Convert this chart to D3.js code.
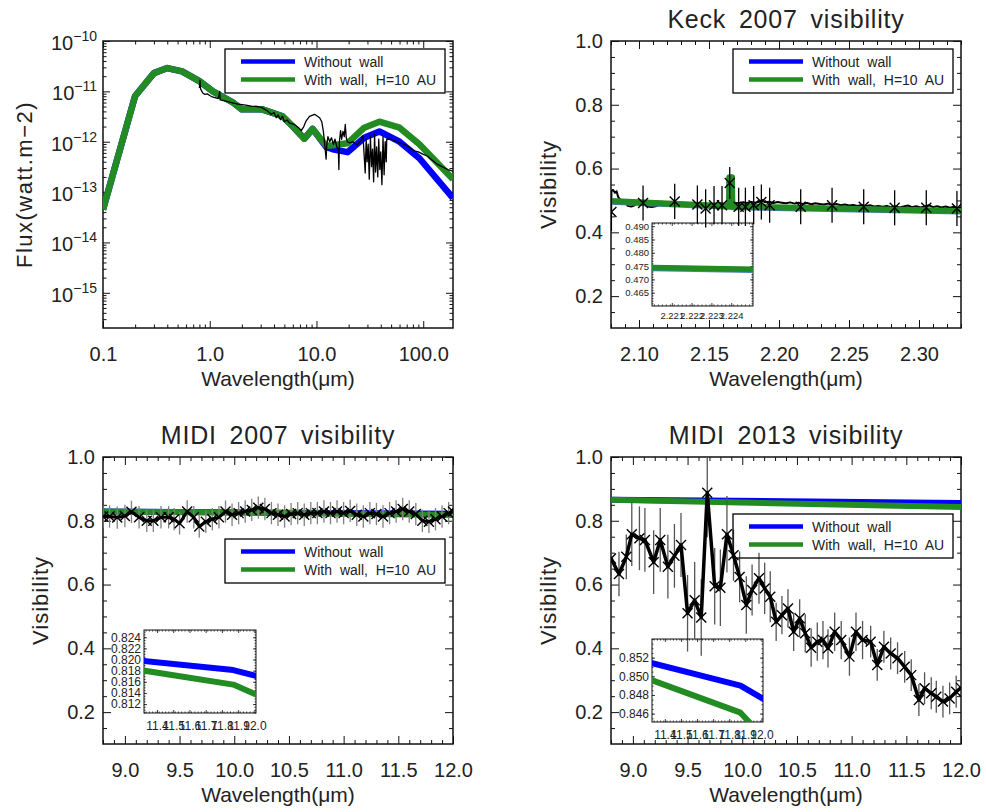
<!DOCTYPE html>
<html>
<head>
<meta charset="utf-8">
<script src="https://cdn.jsdelivr.net/npm/d3@7"></script>
<style>
  body { margin: 0; background: #fff; }
  text { font-family: "Liberation Sans", Arial, sans-serif; fill: #222; }
</style>
</head>
<body>
<script>
// ---- SED (top left) ----
const sedXTicks = [0.1, 1, 10, 100];
const sedYTicks = [1e-15, 1e-14, 1e-13, 1e-12, 1e-11, 1e-10];
const sedModelWave = [0.1, 0.2, 0.3, 0.4, 0.55, 0.8, 1.07, 1.65, 2.0, 3.1, 4.8, 6.0, 7.7, 9.2, 12.3, 14.2, 19.5, 28, 38.8, 60, 92, 190];
const sedNoWall = [4.5e-14, 8.1e-12, 2.3e-11, 2.9e-11, 2.5e-11, 1.6e-11, 1.0e-11, 6.0e-12, 4.4e-12, 4.4e-12, 3.2e-12, 2.0e-12, 1.15e-12, 1.8e-12, 7.9e-13, 7.1e-13, 6.2e-13, 1.2e-12, 1.6e-12, 1.0e-12, 4.7e-13, 7.6e-14];
const sedWall = [4.5e-14, 8.1e-12, 2.3e-11, 2.9e-11, 2.5e-11, 1.6e-11, 1.0e-11, 6.0e-12, 4.4e-12, 4.4e-12, 3.2e-12, 2.0e-12, 1.15e-12, 1.8e-12, 8.3e-13, 8.5e-13, 9.3e-13, 1.9e-12, 2.5e-12, 1.9e-12, 8.9e-13, 1.8e-13];
const sedObsWave = [0.80, 0.81, 0.82, 0.86, 0.90, 0.95, 1.00, 1.04, 1.10, 1.20, 1.24, 1.25, 1.38, 1.60, 1.84, 2.10, 2.46, 2.80, 3.05, 3.40,
  3.78, 4.00, 4.20, 4.36, 4.60, 4.80, 5.00, 5.30, 5.60, 6.20, 6.80, 7.20, 7.60, 8.00, 8.60, 9.60, 10.7, 11.2, 11.6, 12.0,
  12.3, 12.5, 12.8, 13.3, 13.8, 14.4, 14.9, 15.5, 16.0, 16.2, 16.4, 16.8, 17.2, 17.7, 18.2, 18.6, 19.0, 19.5, 20.5, 22.0,
  24.0, 26.0, 27.3, 28.0, 28.6, 29.2, 29.8, 30.5, 31.2, 32.0, 32.8, 33.5, 34.3, 35.0, 35.8, 36.6, 37.5, 38.3, 39.2, 40.0,
  41.0, 42.0, 43.0, 44.0, 45.0, 45.5, 50, 53.5, 60, 66.7, 75, 82.5, 90, 100, 109, 120, 137, 150, 170, 190];
const sedObsFlux = [1.17e-11, 1.66e-11, 1.12e-11, 9.3e-12, 8.7e-12, 8.9e-12, 8.3e-12, 7.9e-12, 7.6e-12, 7.2e-12, 1.0e-11, 6.8e-12, 6.5e-12, 6.0e-12, 5.6e-12, 5.4e-12, 5.1e-12, 5.0e-12, 4.8e-12, 4.2e-12,
  3.5e-12, 3.8e-12, 3.0e-12, 3.4e-12, 2.75e-12, 3.2e-12, 2.5e-12, 2.7e-12, 2.35e-12, 2.2e-12, 1.9e-12, 1.66e-12, 2.0e-12, 2.6e-12, 3.2e-12, 3.5e-12, 3.0e-12, 2.5e-12, 1.6e-12, 7.9e-13,
  4.5e-13, 8.9e-13, 1.26e-12, 1.0e-12, 1.2e-12, 8.9e-13, 1.12e-12, 7.9e-13, 7.1e-13, 2.8e-13, 1.0e-12, 1.66e-12, 1.12e-12, 1.6e-12, 1.26e-12, 2.2e-12, 1.2e-12, 1.0e-12, 9.5e-13, 1.0e-12,
  8.7e-13, 1.05e-12, 1.3e-12, 5.0e-13, 2.4e-13, 1.12e-12, 4.0e-13, 8.9e-13, 1.8e-13, 1.26e-12, 3.2e-13, 7.1e-13, 1.6e-13, 1.4e-12, 2.5e-13, 7.9e-13, 2.0e-13, 1.12e-12, 2.8e-13, 6.3e-13,
  1.4e-13, 1.26e-12, 2.2e-13, 1.0e-12, 4.0e-13, 1.12e-12, 1.12e-12, 1.05e-12, 9.5e-13, 8.9e-13, 7.6e-13, 6.6e-13, 6.3e-13, 5.6e-13, 5.2e-13, 4.4e-13, 3.5e-13, 3.2e-13, 2.8e-13, 2.6e-13];

// ---- Keck 2007 (top right) ----
const keckXTicks = [2.10, 2.15, 2.20, 2.25, 2.30];
const visYTicks = [0.2, 0.4, 0.6, 0.8, 1.0];
const keckModelWave = [2.08, 2.1644, 2.1646, 2.1664, 2.1666, 2.33];
const keckNoWall = [0.496, 0.480, 0.571, 0.571, 0.479, 0.465];
const keckWall = [0.498, 0.482, 0.573, 0.573, 0.481, 0.467];
const keckSpecWave = [2.0800, 2.0803, 2.0815, 2.0828, 2.0840, 2.0850, 2.0865, 2.0885, 2.0905, 2.0920, 2.0945, 2.0965, 2.0990, 2.1010, 2.1040,
  2.1065, 2.1090, 2.1120, 2.1150, 2.1180, 2.1210, 2.1240, 2.1270, 2.1300, 2.1340, 2.1380, 2.1420, 2.1460, 2.1500, 2.1540,
  2.1580, 2.1620, 2.1650, 2.1680, 2.1710, 2.1740, 2.1770, 2.1800, 2.1830, 2.1860, 2.1880, 2.1900, 2.1930, 2.1960, 2.1990,
  2.2020, 2.2050, 2.2080, 2.2110, 2.2140, 2.2170, 2.2200, 2.2230, 2.2260, 2.2290, 2.2320, 2.2350, 2.2380, 2.2410, 2.2440,
  2.2470, 2.2500, 2.2530, 2.2560, 2.2590, 2.2620, 2.2650, 2.2680, 2.2710, 2.2740, 2.2770, 2.2800, 2.2830, 2.2860, 2.2890,
  2.2920, 2.2950, 2.2980, 2.3010, 2.3040, 2.3070, 2.3100, 2.3130, 2.3160, 2.3190, 2.3220, 2.3250, 2.3280, 2.3300];
const keckSpecVis = [0.445, 0.530, 0.533, 0.524, 0.529, 0.512, 0.503, 0.498, 0.490, 0.483, 0.481, 0.484, 0.489, 0.492, 0.487,
  0.481, 0.479, 0.482, 0.486, 0.484, 0.488, 0.490, 0.487, 0.485, 0.488, 0.486, 0.489, 0.487, 0.490, 0.488,
  0.491, 0.489, 0.492, 0.493, 0.491, 0.494, 0.492, 0.495, 0.493, 0.496, 0.501, 0.494, 0.496, 0.492, 0.495,
  0.493, 0.491, 0.494, 0.490, 0.493, 0.489, 0.492, 0.488, 0.491, 0.489, 0.487, 0.490, 0.486, 0.489, 0.485,
  0.487, 0.484, 0.486, 0.483, 0.486, 0.482, 0.485, 0.481, 0.483, 0.480, 0.483, 0.479, 0.482, 0.478, 0.481,
  0.484, 0.479, 0.482, 0.478, 0.481, 0.485, 0.479, 0.482, 0.478, 0.481, 0.477, 0.480, 0.476, 0.478];
const keckWave = [2.0803, 2.1029, 2.1255, 2.1417, 2.1476, 2.1536, 2.1593, 2.1648, 2.1712, 2.1760, 2.1819, 2.1874, 2.1933, 2.2155, 2.2379, 2.2605, 2.2826, 2.3052, 2.3271];
const keckVis = [0.464, 0.492, 0.497, 0.487, 0.475, 0.485, 0.485, 0.555, 0.480, 0.480, 0.485, 0.495, 0.485, 0.480, 0.485, 0.480, 0.477, 0.477, 0.475];
const keckErr = [0.06, 0.055, 0.055, 0.06, 0.06, 0.06, 0.06, 0.05, 0.06, 0.06, 0.06, 0.055, 0.055, 0.055, 0.055, 0.055, 0.055, 0.055, 0.055];
const keckInsetXTicks = [2.221, 2.222, 2.223, 2.224];
const keckInsetYTicks = [0.465, 0.470, 0.475, 0.480, 0.485, 0.490];
const keckInsetWave = [2.2200, 2.2251];
const keckInsetNoWall = [0.4742, 0.4735];
const keckInsetWall = [0.4745, 0.4738];

// ---- MIDI 2007 (bottom left) ----
const midiXTicks = [9.0, 9.5, 10.0, 10.5, 11.0, 11.5, 12.0];
const midi07ModelWave = [8.8, 10.5, 12.0];
const midi07NoWall = [0.829, 0.825, 0.822];
const midi07Wall = [0.829, 0.824, 0.818];
const midi07Wave = [8.80, 8.86, 8.93, 9.00, 9.06, 9.13, 9.20, 9.26, 9.33, 9.40, 9.45, 9.50, 9.57, 9.63, 9.68, 9.74, 9.80, 9.86,
  9.92, 9.98, 10.04, 10.10, 10.16, 10.22, 10.28, 10.34, 10.40, 10.46, 10.52, 10.58, 10.64, 10.70, 10.76, 10.82, 10.88, 10.94,
  11.00, 11.06, 11.12, 11.18, 11.24, 11.30, 11.36, 11.42, 11.48, 11.54, 11.60, 11.66, 11.72, 11.78, 11.84, 11.90, 11.96, 12.00];
const midi07Vis = [0.8135, 0.8135, 0.810, 0.815, 0.828, 0.811, 0.800, 0.800, 0.811, 0.811, 0.805, 0.792, 0.829, 0.811, 0.782, 0.797, 0.805, 0.811,
  0.829, 0.819, 0.824, 0.829, 0.834, 0.841, 0.837, 0.824, 0.819, 0.8135, 0.821, 0.824, 0.819, 0.824, 0.824, 0.829, 0.824, 0.829,
  0.824, 0.831, 0.819, 0.8135, 0.824, 0.821, 0.8135, 0.824, 0.829, 0.837, 0.829, 0.821, 0.800, 0.797, 0.805, 0.8135, 0.824, 0.829];
const midi07Err = 0.035;
const midiInsetXTicks = [11.4, 11.5, 11.6, 11.7, 11.8, 11.9, 12.0];
const midi07InsetYTicks = [0.812, 0.814, 0.816, 0.818, 0.820, 0.822, 0.824];
const midiInsetWave = [11.3, 11.87, 12.02];
const midi07InsetNoWall = [0.8198, 0.8181, 0.8170];
const midi07InsetWall = [0.8181, 0.8155, 0.8136];

// ---- MIDI 2013 (bottom right) ----
const midi13ModelWave = [8.8, 12.0];
const midi13NoWall = [0.866, 0.856];
const midi13Wall = [0.866, 0.843];
const midi13Wave = [8.80, 8.873, 8.94, 8.99, 9.06, 9.11, 9.19, 9.25, 9.32, 9.38, 9.44, 9.50, 9.565, 9.625, 9.68, 9.748, 9.80, 9.86,
  9.92, 9.976, 10.037, 10.09, 10.153, 10.205, 10.256, 10.31, 10.363, 10.418, 10.47, 10.525, 10.576, 10.63, 10.686, 10.738,
  10.784, 10.845, 10.905, 10.98, 11.04, 11.10, 11.174, 11.234, 11.295, 11.357, 11.42, 11.485, 11.545, 11.615, 11.667, 11.728,
  11.774, 11.835, 11.896, 11.956, 12.0];
const midi13Vis = [0.682, 0.633, 0.687, 0.758, 0.745, 0.740, 0.670, 0.740, 0.656, 0.690, 0.724, 0.510, 0.551, 0.497, 0.888, 0.595, 0.590, 0.758,
  0.692, 0.624, 0.536, 0.583, 0.620, 0.588, 0.562, 0.483, 0.504, 0.525, 0.452, 0.494, 0.447, 0.402, 0.421, 0.426,
  0.400, 0.452, 0.426, 0.374, 0.452, 0.426, 0.421, 0.348, 0.405, 0.384, 0.369, 0.342, 0.316, 0.238, 0.275, 0.259,
  0.248, 0.233, 0.243, 0.264, 0.276];
const midi13Err = [0.07, 0.07, 0.07, 0.1, 0.1, 0.1, 0.1, 0.1, 0.1, 0.1, 0.1, 0.12, 0.12, 0.12, 0.14, 0.12, 0.12, 0.12,
  0.08, 0.08, 0.09, 0.08, 0.08, 0.08, 0.08, 0.06, 0.06, 0.06, 0.06, 0.06, 0.06, 0.06, 0.06, 0.06,
  0.06, 0.06, 0.06, 0.06, 0.06, 0.06, 0.05, 0.05, 0.05, 0.05, 0.05, 0.05, 0.05, 0.05, 0.05, 0.05,
  0.05, 0.05, 0.05, 0.05, 0.05];
const midi13InsetYTicks = [0.846, 0.848, 0.850, 0.852];
const midi13InsetNoWall = [0.8515, 0.8490, 0.8475];
const midi13InsetWall = [0.8497, 0.8461, 0.8433];

const legendLabels = ['Without wall', 'With wall, H=10 AU'];
const BLUE = '#0000ff', GREEN = '#228b22';

const svg = d3.select('body').append('svg').attr('width', 986).attr('height', 812);
const defs = svg.append('defs');
let clipN = 0;

// axis box with inward ticks on all four sides
function frame(g, x, y, w, h, o) {
  const maj = o.major || 8, mnr = o.minor || 4;
  const add = (axis, tr) => {
    const a = g.append('g').attr('transform', tr || null).call(axis);
    a.attr('font-family', null).attr('font-size', o.fs);
    a.select('.domain').remove();
    a.selectAll('line').attr('stroke', '#111').attr('stroke-width', o.tickW || 1);
    return a;
  };
  const xb = add(d3.axisBottom(x).tickValues(o.xMajor).tickSizeInner(-maj).tickSizeOuter(0)
    .tickPadding(o.xPad).tickFormat(o.xFmt), `translate(0,${h})`);
  add(d3.axisBottom(x).tickValues(o.xMinor).tickSizeInner(-mnr).tickSizeOuter(0).tickFormat(''), `translate(0,${h})`);
  add(d3.axisTop(x).tickValues(o.xMajor).tickSizeInner(-maj).tickSizeOuter(0).tickFormat(''));
  add(d3.axisTop(x).tickValues(o.xMinor).tickSizeInner(-mnr).tickSizeOuter(0).tickFormat(''));
  const yl = add(d3.axisLeft(y).tickValues(o.yMajor).tickSizeInner(-maj).tickSizeOuter(0)
    .tickPadding(o.yPad).tickFormat(o.yFmt));
  add(d3.axisLeft(y).tickValues(o.yMinor).tickSizeInner(-mnr).tickSizeOuter(0).tickFormat(''));
  add(d3.axisRight(y).tickValues(o.yMajor).tickSizeInner(-maj).tickSizeOuter(0).tickFormat(''), `translate(${w},0)`);
  add(d3.axisRight(y).tickValues(o.yMinor).tickSizeInner(-mnr).tickSizeOuter(0).tickFormat(''), `translate(${w},0)`);
  g.append('rect').attr('width', w).attr('height', h).attr('fill', 'none')
    .attr('stroke', '#111').attr('stroke-width', o.frameW || 1.5);
  return { xb, yl };
}

function clipFor(w, h) {
  const id = 'clip' + (clipN++);
  defs.append('clipPath').attr('id', id).append('rect').attr('width', w).attr('height', h);
  return `url(#${id})`;
}

function drawLine(g, x, y, xs, ys, color, width) {
  const line = d3.line().x(d => x(d[0])).y(d => y(d[1]));
  g.append('path').datum(d3.zip(xs, ys)).attr('d', line).attr('fill', 'none')
    .attr('stroke', color).attr('stroke-width', width).attr('stroke-linejoin', 'round');
}

function drawPoints(g, x, y, xs, ys, errs, errColor, lineW) {
  const pts = xs.map((v, i) => [v, ys[i], Array.isArray(errs) ? errs[i] : errs]);
  g.selectAll(null).data(pts).join('line')
    .attr('x1', d => x(d[0])).attr('x2', d => x(d[0]))
    .attr('y1', d => y(d[1] - d[2])).attr('y2', d => y(d[1] + d[2]))
    .attr('stroke', errColor).attr('stroke-width', 1.3);
  if (lineW) drawLine(g, x, y, xs, ys, '#000', lineW);
  g.selectAll(null).data(pts).join('path')
    .attr('transform', d => `translate(${x(d[0])},${y(d[1])})`)
    .attr('d', 'M-5,-5L5,5M-5,5L5,-5').attr('stroke', '#000').attr('stroke-width', 1.4).attr('fill', 'none');
}

function legend(lx, ly) {
  const lg = svg.append('g').attr('transform', `translate(${lx},${ly})`);
  lg.append('rect').attr('width', 220).attr('height', 44).attr('fill', 'none')
    .attr('stroke', '#000').attr('stroke-width', 1.3);
  [BLUE, GREEN].forEach((c, i) => {
    lg.append('line').attr('x1', 16).attr('x2', 70).attr('y1', 12.5 + 18 * i).attr('y2', 12.5 + 18 * i)
      .attr('stroke', c).attr('stroke-width', 4.5);
    lg.append('text').attr('x', 79).attr('y', 17.5 + 18 * i).attr('font-size', 14)
      .attr('word-spacing', 4).text(legendLabels[i]);
  });
}

function titles(cx, top, h, title, ylab, ylx) {
  if (title) svg.append('text').attr('x', cx).attr('y', top - 13).attr('text-anchor', 'middle')
    .attr('font-size', 25).attr('letter-spacing', 0.8).attr('word-spacing', 5).text(title);
  svg.append('text').attr('x', cx).attr('y', top + h + 58).attr('text-anchor', 'middle')
    .attr('font-size', 21).text('Wavelength(μm)');
  svg.append('text').attr('transform', `translate(${ylx},${top + h / 2}) rotate(-90)`)
    .attr('text-anchor', 'middle').attr('font-size', 22).attr('letter-spacing', ylab.length > 10 ? 1.5 : 1)
    .text(ylab);
}

const W = 350, H = 287;
const visMinor = d3.range(2, 21).map(v => v / 20).filter(v => !visYTicks.includes(v) && v !== 0.1);
const fmt1 = d3.format('.1f');

// ================= panel 1: SED =================
{
  const L = 103, T = 41;
  const g = svg.append('g').attr('transform', `translate(${L},${T})`);
  const x = d3.scaleLog().domain([0.1, 190]).range([0, W]);
  const y = d3.scaleLog().domain([2e-16, 1e-10]).range([H, 0]);
  const xMinor = [], yMinor = [];
  [-1, 0, 1, 2].forEach(e => d3.range(2, 10).forEach(k => { const v = k * Math.pow(10, e); if (v < 190) xMinor.push(v); }));
  [-16, -15, -14, -13, -12, -11].forEach(e => d3.range(2, 10).forEach(k => { const v = k * Math.pow(10, e); if (v > 2e-16 && v < 1e-10) yMinor.push(v); }));
  const ax = frame(g, x, y, W, H, { xMajor: sedXTicks, xMinor, yMajor: sedYTicks, yMinor,
    xFmt: fmt1, yFmt: () => '', fs: 20, xPad: 19, yPad: 6, major: 7, minor: 3.5 });
  ax.yl.selectAll('.tick text').attr('dy', '0.42em').each(function (d) {
    const t = d3.select(this);
    t.append('tspan').text('10');
    t.append('tspan').attr('dy', -9).attr('font-size', 14).text('−' + Math.round(-Math.log10(d)));
  });
  const pg = g.append('g').attr('clip-path', clipFor(W, H));
  drawLine(pg, x, y, sedModelWave, sedNoWall, BLUE, 6.5);
  drawLine(pg, x, y, sedModelWave, sedWall, GREEN, 6.5);
  drawLine(pg, x, y, sedObsWave, sedObsFlux, '#000', 1.3);
  titles(L + W / 2, T, H, null, 'Flux(watt.m−2)', 32);
  legend(225, 49);
}

// ================= panel 2: Keck =================
{
  const L = 611, T = 41;
  const g = svg.append('g').attr('transform', `translate(${L},${T})`);
  const x = d3.scaleLinear().domain([2.08, 2.33]).range([0, W]);
  const y = d3.scaleLinear().domain([0.1, 1.0]).range([H, 0]);
  const xMinor = d3.range(208, 234).map(v => v / 100).filter(v => !keckXTicks.includes(v));
  frame(g, x, y, W, H, { xMajor: keckXTicks, xMinor, yMajor: visYTicks, yMinor: visMinor,
    xFmt: d3.format('.2f'), yFmt: fmt1, fs: 20, xPad: 19, yPad: 8 });
  const pg = g.append('g').attr('clip-path', clipFor(W, H));
  drawLine(pg, x, y, keckSpecWave, keckSpecVis, '#000', 2);
  drawLine(pg, x, y, keckModelWave, keckNoWall, '#4682b4', 6);
  drawLine(pg, x, y, keckModelWave, keckWall, GREEN, 6);
  drawPoints(pg, x, y, keckWave, keckVis, keckErr, '#000', 0);
  titles(L + W / 2, T, H, 'Keck 2007 visibility', 'Visibility', 556);
  legend(733, 49);

  // inset
  const iw = 101, ih = 83;
  const ig = svg.append('g').attr('transform', 'translate(652,223)');
  const ix = d3.scaleLinear().domain([2.2200, 2.2251]).range([0, iw]);
  const iy = d3.scaleLinear().domain([0.460, 0.4912]).range([ih, 0]);
  frame(ig, ix, iy, iw, ih, { xMajor: keckInsetXTicks, xMinor: d3.range(22201, 22251, 2).map(v => v / 10000),
    yMajor: keckInsetYTicks, yMinor: d3.range(461, 492).map(v => v / 1000),
    xFmt: d3.format('.3f'), yFmt: d3.format('.3f'), fs: 9.5, xPad: 6, yPad: 3, major: 3, minor: 1.5, frameW: 1, tickW: 0.8 });
  const ipg = ig.append('g').attr('clip-path', clipFor(iw, ih));
  drawLine(ipg, ix, iy, keckInsetWave, keckInsetNoWall, '#4682b4', 6);
  drawLine(ipg, ix, iy, keckInsetWave, keckInsetWall, GREEN, 5.5);
}

// ================= panel 3: MIDI 2007 =================
const midiMinor = d3.range(88, 121).map(v => v / 10).filter(v => !midiXTicks.includes(v));
function midiInset(left, top, iw, ih, yDom, yTicks, noWall, wall) {
  const ig = svg.append('g').attr('transform', `translate(${left},${top})`);
  const ix = d3.scaleLinear().domain([11.32, 12.01]).range([0, iw]);
  const iy = d3.scaleLinear().domain(yDom).range([ih, 0]);
  frame(ig, ix, iy, iw, ih, { xMajor: midiInsetXTicks, xMinor: d3.range(1133, 1201, 2).map(v => v / 100),
    yMajor: yTicks, yMinor: d3.range(Math.ceil(yDom[0] * 2000), Math.floor(yDom[1] * 2000) + 1).map(v => v / 2000),
    xFmt: fmt1, yFmt: d3.format('.3f'), fs: 12, xPad: 8, yPad: 3, major: 3, minor: 1.5, frameW: 1, tickW: 0.8 });
  const ipg = ig.append('g').attr('clip-path', clipFor(iw, ih));
  drawLine(ipg, ix, iy, midiInsetWave, noWall, BLUE, 6);
  drawLine(ipg, ix, iy, midiInsetWave, wall, GREEN, 6);
}
{
  const L = 103, T = 457;
  const g = svg.append('g').attr('transform', `translate(${L},${T})`);
  const x = d3.scaleLinear().domain([8.8, 12.0]).range([0, W]);
  const y = d3.scaleLinear().domain([0.1, 1.0]).range([H, 0]);
  frame(g, x, y, W, H, { xMajor: midiXTicks, xMinor: midiMinor, yMajor: visYTicks, yMinor: visMinor,
    xFmt: fmt1, yFmt: fmt1, fs: 20, xPad: 19, yPad: 8 });
  const pg = g.append('g').attr('clip-path', clipFor(W, H));
  drawLine(pg, x, y, midi07ModelWave, midi07NoWall, BLUE, 6);
  drawLine(pg, x, y, midi07ModelWave, midi07Wall, GREEN, 6);
  drawPoints(pg, x, y, midi07Wave, midi07Vis, midi07Err, '#808080', 3);
  titles(L + W / 2, T, H, 'MIDI 2007 visibility', 'Visibility', 48);
  legend(225, 539);
  midiInset(144, 630, 112, 83, [0.8104, 0.8253], midi07InsetYTicks, midi07InsetNoWall, midi07InsetWall);
}

// ================= panel 4: MIDI 2013 =================
{
  const L = 611, T = 457;
  const g = svg.append('g').attr('transform', `translate(${L},${T})`);
  const x = d3.scaleLinear().domain([8.8, 12.0]).range([0, W]);
  const y = d3.scaleLinear().domain([0.1, 1.0]).range([H, 0]);
  frame(g, x, y, W, H, { xMajor: midiXTicks, xMinor: midiMinor, yMajor: visYTicks, yMinor: visMinor,
    xFmt: fmt1, yFmt: fmt1, fs: 20, xPad: 19, yPad: 8 });
  const pg = g.append('g').attr('clip-path', clipFor(W, H));
  drawLine(pg, x, y, midi13ModelWave, midi13NoWall, BLUE, 6);
  drawLine(pg, x, y, midi13ModelWave, midi13Wall, GREEN, 6);
  drawPoints(pg, x, y, midi13Wave, midi13Vis, midi13Err, '#555', 3.5);
  titles(L + W / 2, T, H, 'MIDI 2013 visibility', 'Visibility', 556);
  legend(733, 514);
  midiInset(652, 639, 111, 83, [0.8451, 0.8540], midi13InsetYTicks, midi13InsetNoWall, midi13InsetWall);
}
</script>
</body>
</html>
